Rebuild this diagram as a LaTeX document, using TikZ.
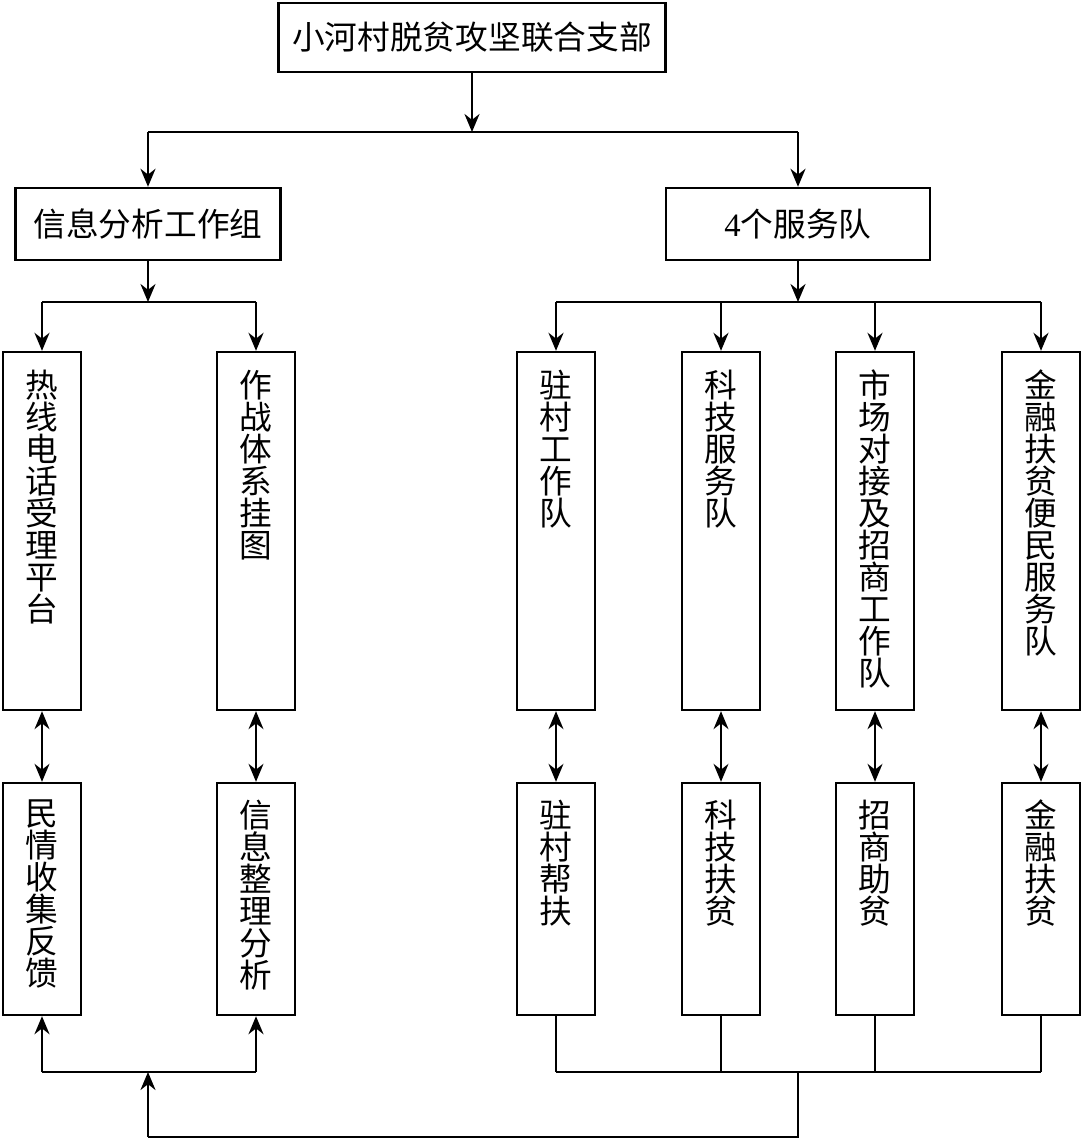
\documentclass[tikz,border=0pt]{standalone}
\usepackage{fontspec}
\newfontfamily\cjk{Noto Sans CJK SC}
\newfontfamily\numfont{Liberation Serif}
\usetikzlibrary{arrows.meta,positioning}
\begin{document}
\begin{tikzpicture}[x=0.02cm,y=-0.02cm,line width=1.4pt,>={Stealth[length=3.6mm,width=3mm]},
  every node/.style={font=\cjk\fontsize{18.6}{18.2}\selectfont},
  box/.style={draw,inner sep=0pt},
  upbox/.style={box,minimum width=1.56cm,minimum height=7.16cm},
  lowbox/.style={box,minimum width=1.56cm,minimum height=4.64cm},
  vtxt/.style={align=center,inner sep=0pt},
  link/.style={<->,line width=0.8pt}]
\useasboundingbox (0,0) rectangle (1083,1140);
\node[box,minimum width=7.74cm,minimum height=1.38cm] (dept) at (472,37.5) {小河村脱贫攻坚联合支部};
\node[box,minimum width=5.3cm,minimum height=1.44cm] (info) at (148,224) {信息分析工作组};
\node[box,minimum width=5.28cm,minimum height=1.44cm] (serv) at (798,224) {{\numfont 4}个服务队};
\coordinate (j0) at (0,132);
\coordinate (j1) at (0,302);
\coordinate (b1) at (0,1072);
\coordinate (b2) at (0,1137);
% upper columns
\node[upbox] (hot) at (42,531) {};
\node[upbox] (war) at (256,531) {};
\node[upbox] (zc) at (556,531) {};
\node[upbox] (kj) at (721,531) {};
\node[upbox] (sc) at (875,531) {};
\node[upbox] (jr) at (1041,531) {};
\node[vtxt,below=0.36cm of hot.north] {热\\线\\电\\话\\受\\理\\平\\台};
\node[vtxt,below=0.36cm of war.north] {作\\战\\体\\系\\挂\\图};
\node[vtxt,below=0.36cm of zc.north] {驻\\村\\工\\作\\队};
\node[vtxt,below=0.36cm of kj.north] {科\\技\\服\\务\\队};
\node[vtxt,below=0.36cm of sc.north] {市\\场\\对\\接\\及\\招\\商\\工\\作\\队};
\node[vtxt,below=0.36cm of jr.north] {金\\融\\扶\\贫\\便\\民\\服\\务\\队};
% lower columns
\node[lowbox] (fb) at (42,899) {};
\node[lowbox] (an) at (256,899) {};
\node[lowbox] (zcb) at (556,899) {};
\node[lowbox] (kjb) at (721,899) {};
\node[lowbox] (zs) at (875,899) {};
\node[lowbox] (jrb) at (1041,899) {};
\node[vtxt,below=0.34cm of fb.north] {民\\情\\收\\集\\反\\馈};
\node[vtxt,below=0.34cm of an.north] {信\\息\\整\\理\\分\\析};
\node[vtxt,below=0.34cm of zcb.north] {驻\\村\\帮\\扶};
\node[vtxt,below=0.34cm of kjb.north] {科\\技\\扶\\贫};
\node[vtxt,below=0.34cm of zs.north] {招\\商\\助\\贫};
\node[vtxt,below=0.34cm of jrb.north] {金\\融\\扶\\贫};
% tree
\draw[->] (dept) -- (dept |- j0);
\draw (info |- j0) -- (serv |- j0);
\draw[->] (info |- j0) -- (info);
\draw[->] (serv |- j0) -- (serv);
\draw[->] (info) -- (info |- j1);
\draw[->] (serv) -- (serv |- j1);
\draw (hot |- j1) -- (war |- j1);
\draw (zc |- j1) -- (jr |- j1);
\foreach \n in {hot,war,zc,kj,sc,jr}
  \draw[->] (\n |- j1) -- (\n);
\draw[link] (hot) -- (fb);
\draw[link] (war) -- (an);
\draw[link] (zc) -- (zcb);
\draw[link] (kj) -- (kjb);
\draw[link] (sc) -- (zs);
\draw[link] (jr) -- (jrb);
% feedback
\foreach \n in {zcb,kjb,zs,jrb}
  \draw (\n) -- (\n |- b1);
\draw (zcb |- b1) -- (jrb |- b1);
\draw (serv |- b1) -- (serv |- b2) -- (info |- b2);
\draw[->] (info |- b2) -- (info |- b1);
\draw (fb |- b1) -- (an |- b1);
\draw[->] (fb |- b1) -- (fb);
\draw[->] (an |- b1) -- (an);
\end{tikzpicture}
\end{document}
